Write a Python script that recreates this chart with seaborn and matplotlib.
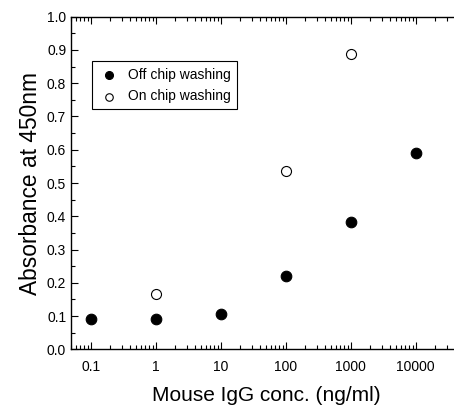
import numpy as np
import pandas as pd
import matplotlib
matplotlib.use("Agg")
import matplotlib.pyplot as plt
import matplotlib.ticker as mticker
import seaborn as sns

# data
off_conc = [0.1, 1, 10, 100, 1000, 10000]
off_abs = [0.091, 0.092, 0.105, 0.220, 0.382, 0.589]
on_conc = [1, 100, 1000]
on_abs = [0.166, 0.537, 0.887]
x_ticks = [0.1, 1, 10, 100, 1000, 10000]
x_labels = ["0.1", "1", "10", "100", "1000", "10000"]

sns.set_style("ticks")
plt.rcParams['font.family'] = ['Liberation Sans', 'DejaVu Sans']
plt.rcParams['text.color'] = 'black'
plt.rcParams['axes.labelcolor'] = 'black'

off_df = pd.DataFrame({"conc": off_conc, "absorb": off_abs})
on_df = pd.DataFrame({"conc": on_conc, "absorb": on_abs})

fig = plt.figure(figsize=(4.54, 4.11), dpi=100)
# right edge of the axes runs past the figure, as in the (cropped) original
ax = fig.add_axes([71 / 454, 0.150, (461 - 71) / 454, 0.8094])

sns.scatterplot(data=off_df, x="conc", y="absorb", ax=ax, marker="o", s=58,
                color="black", edgecolor="black", linewidth=0.8,
                label="Off chip washing", zorder=3)
sns.scatterplot(data=on_df, x="conc", y="absorb", ax=ax, marker="o", s=52,
                facecolor="white", edgecolor="black", linewidth=0.8,
                label="On chip washing", zorder=3)

ax.set_xscale("log")
ax.set_xlim(0.05, 5e4)
ax.set_ylim(0.0, 1.0)

ax.xaxis.set_major_locator(mticker.FixedLocator(x_ticks))
ax.xaxis.set_major_formatter(mticker.FixedFormatter(x_labels))
ax.xaxis.set_minor_locator(mticker.LogLocator(base=10, subs=np.arange(2, 10)))
ax.xaxis.set_minor_formatter(mticker.NullFormatter())
ax.yaxis.set_major_locator(mticker.MultipleLocator(0.1))
ax.yaxis.set_minor_locator(mticker.MultipleLocator(0.05))
ax.yaxis.set_major_formatter(mticker.FormatStrFormatter("%.1f"))

ax.tick_params(which="both", direction="in", top=True, right=True,
               colors="black", labelsize=10, width=0.8)
ax.tick_params(which="major", length=5)
ax.tick_params(which="minor", length=3)
ax.tick_params(axis="x", which="major", pad=8)
for sp in ax.spines.values():
    sp.set_linewidth(1.0)
    sp.set_color("black")

ax.set_xlabel("Mouse IgG conc. (ng/ml)", fontsize=15, labelpad=8)
ax.set_ylabel("Absorbance at 450nm", fontsize=16.4, labelpad=3.5)

leg = ax.legend(loc="upper left", bbox_to_anchor=(92 / 454, 1 - 61.3 / 411),
                bbox_transform=fig.transFigure, borderaxespad=0, fontsize=10,
                frameon=True, fancybox=False, edgecolor="black",
                borderpad=0.45, handlelength=1.5, handletextpad=0.67,
                labelspacing=0.55, markerscale=0.75)
leg.get_frame().set_linewidth(0.8)
leg.get_frame().set_alpha(1)

fig.savefig("out.png", dpi=100)
